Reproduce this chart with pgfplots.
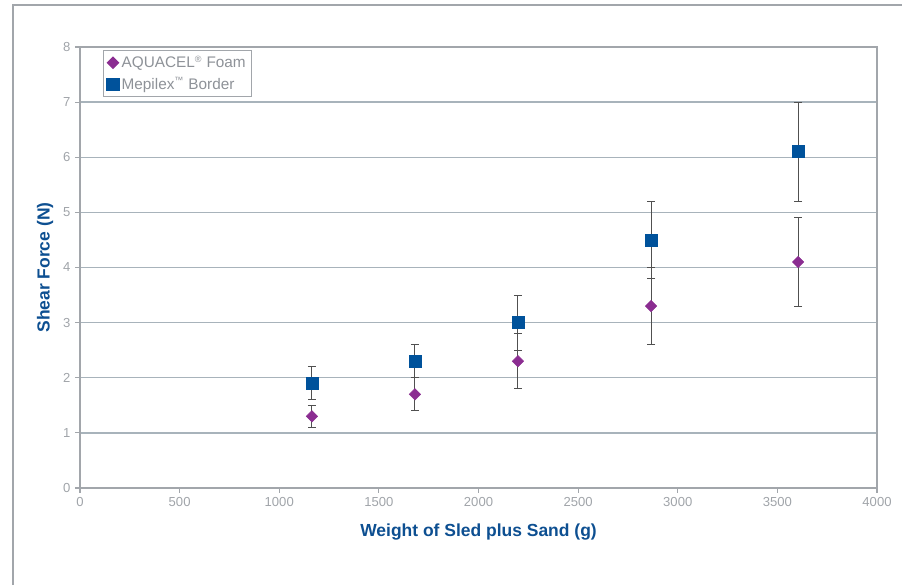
\documentclass[border=0pt]{standalone}
\usepackage{fontspec}
\setmainfont{Liberation Sans}
\usepackage{pgfplots}
\pgfplotsset{compat=1.18}
\definecolor{aqua}{HTML}{8B2D91}
\definecolor{mep}{HTML}{00529B}
\definecolor{lbl}{HTML}{0D4F91}
\definecolor{tickc}{HTML}{A0A4A9}
\definecolor{axc}{HTML}{A2A6AB}
\definecolor{gridc}{HTML}{A8B3BB}
\definecolor{errc}{HTML}{505050}
\definecolor{legc}{HTML}{8E9298}
\begin{document}
\begin{tikzpicture}
\path[use as bounding box] (0pt,0pt) rectangle (676.5pt,438.75pt);
\draw[axc, line width=0.9pt] (9.75pt,0pt) -- (9.75pt,435pt) -- (676.5pt,435pt);
\begin{axis}[
  at={(60pt,72.75pt)}, anchor=south west,
  scale only axis, width=597.75pt, height=330.75pt,
  xmin=0, xmax=4000, ymin=0, ymax=8,
  xtick={0,500,...,4000}, ytick={0,1,...,8},
  /pgf/number format/1000 sep={},
  /pgf/number format/assume math mode=true,
  scaled ticks=false,
  tick pos=left, tick align=outside,
  major tick length=3.75pt,
  tick style={axc, line width=0.8pt},
  axis line style={axc, line width=1.1pt},
  ymajorgrids, grid style={gridc, line width=1pt},
  ticklabel style={font=\fontsize{9.8}{11}\selectfont, text=tickc},
  xlabel={\bfseries Weight of Sled plus Sand (g)},
  ylabel={\bfseries Shear Force (N)},
  label style={font=\fontsize{13.1}{15}\selectfont, text=lbl},
  xlabel style={at={(axis description cs:0.5,-0.111)}, anchor=base},
  ylabel style={at={(axis description cs:-0.0439,0.5)}, anchor=center},
  legend style={at={(axis description cs:0.029,0.993)}, anchor=north west,
    draw=axc, line width=0.8pt, font=\fontsize{11.5}{13.5}\selectfont, text=legc,
    inner xsep=2.5pt, inner ysep=1.8pt, row sep=1.5pt},
  legend cell align=left,
  legend image code/.code={\draw[only marks,#1] plot coordinates {(0.08cm,0cm)};},
  error bars/y dir=both, error bars/y explicit,
  error bars/error bar style={errc, line width=0.8pt},
  error bars/error mark options={rotate=90, mark size=3pt, errc, line width=0.8pt},
]
\addplot[only marks, mark=square*, mark size=3pt, mark options={rotate=45, fill=aqua, draw=aqua}]
  coordinates {
  (1164,1.3) +- (0,0.2)
  (1681,1.7) +- (0,0.3)
  (2198,2.3) +- (0,0.5)
  (2866,3.3) +- (0,0.7)
  (3604,4.1) +- (0,0.8)
  };
\addlegendentry{AQUACEL\textsuperscript{\fontsize{6.8}{7}\selectfont ®} Foam}
\addplot[only marks, mark=square*, mark size=4.5pt, mark options={fill=mep, draw=mep}]
  coordinates {
  (1164,1.9) +- (0,0.3)
  (1681,2.3) +- (0,0.3)
  (2198,3.0) +- (0,0.5)
  (2866,4.5) +- (0,0.7)
  (3604,6.1) +- (0,0.9)
  };
\addlegendentry{Mepilex\textsuperscript{\fontsize{6.8}{7}\selectfont ™} Border}
\end{axis}
\end{tikzpicture}
\end{document}
